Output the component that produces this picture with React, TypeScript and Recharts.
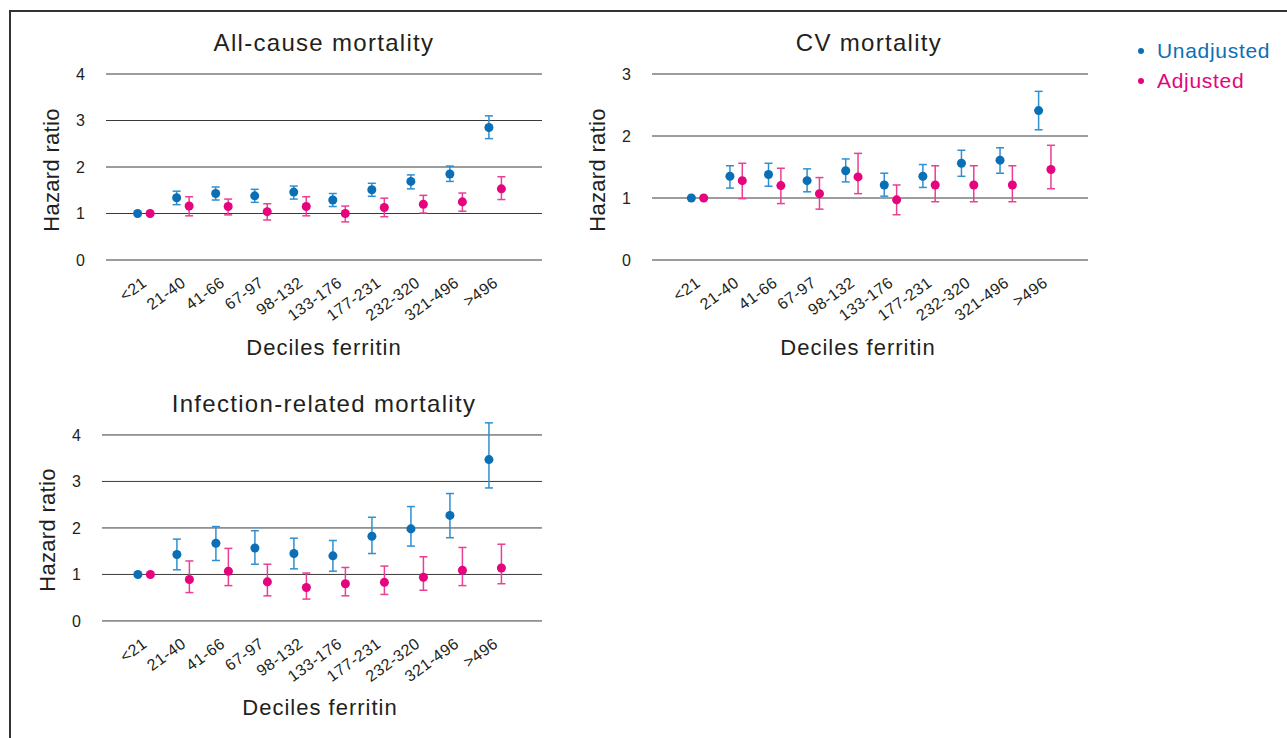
import { ScatterChart, Scatter, XAxis, YAxis, ReferenceLine, ErrorBar } from "recharts";

const FONT = '"Liberation Sans", Arial, Helvetica, sans-serif';
const INK = "#231f20";
const BLUE = "#0b6fb6";
const BLUE_BAR = "#2f8fd2";
const PINK = "#e5047e";
const PINK_BAR = "#ea3f93";

const deciles = ["<21", "21-40", "41-66", "67-97", "98-132", "133-176", "177-231", "232-320", "321-496", ">496"];
const xTicks = [1, 2, 3, 4, 5, 6, 7, 8, 9, 10];
const yTicks4 = [0, 1, 2, 3, 4];
const yTicks3 = [0, 1, 2, 3];

// All-cause mortality
const allUnadj = [1.0, 1.34, 1.43, 1.38, 1.46, 1.29, 1.51, 1.69, 1.85, 2.85];
const allUnadjLow = [null, 1.19, 1.29, 1.24, 1.31, 1.15, 1.37, 1.53, 1.69, 2.61];
const allUnadjHigh = [null, 1.48, 1.57, 1.52, 1.59, 1.43, 1.65, 1.83, 2.02, 3.1];
const allAdj = [1.0, 1.16, 1.15, 1.04, 1.15, 1.0, 1.13, 1.2, 1.25, 1.53];
const allAdjLow = [null, 0.95, 0.97, 0.86, 0.95, 0.82, 0.93, 1.01, 1.05, 1.3];
const allAdjHigh = [null, 1.36, 1.31, 1.21, 1.36, 1.16, 1.33, 1.39, 1.44, 1.79];

// CV mortality
const cvUnadj = [1.0, 1.35, 1.38, 1.28, 1.44, 1.21, 1.35, 1.56, 1.61, 2.41];
const cvUnadjLow = [null, 1.16, 1.19, 1.1, 1.26, 1.03, 1.17, 1.35, 1.4, 2.1];
const cvUnadjHigh = [null, 1.52, 1.56, 1.47, 1.63, 1.4, 1.54, 1.77, 1.81, 2.72];
const cvAdj = [1.0, 1.28, 1.2, 1.07, 1.34, 0.97, 1.21, 1.21, 1.21, 1.46];
const cvAdjLow = [null, 0.99, 0.91, 0.82, 1.07, 0.73, 0.94, 0.94, 0.94, 1.15];
const cvAdjHigh = [null, 1.56, 1.48, 1.33, 1.72, 1.21, 1.52, 1.52, 1.52, 1.85];

// Infection-related mortality
const infUnadj = [1.0, 1.43, 1.67, 1.57, 1.45, 1.4, 1.82, 1.98, 2.27, 3.47];
const infUnadjLow = [null, 1.1, 1.3, 1.22, 1.12, 1.07, 1.45, 1.61, 1.79, 2.86];
const infUnadjHigh = [null, 1.76, 2.03, 1.94, 1.78, 1.73, 2.23, 2.46, 2.74, 4.26];
const infAdj = [1.0, 0.89, 1.07, 0.84, 0.72, 0.8, 0.83, 0.94, 1.09, 1.14];
const infAdjLow = [null, 0.61, 0.76, 0.54, 0.47, 0.54, 0.57, 0.66, 0.76, 0.8];
const infAdjHigh = [null, 1.29, 1.56, 1.22, 1.03, 1.15, 1.18, 1.38, 1.58, 1.65];

interface Pt {
  x: number;
  y: number;
  err: [number, number] | null;
}

// blue dot sits left of the decile, pink dot right of it
function toPoints(values: number[], low: (number | null)[], high: (number | null)[], shift: number): Pt[] {
  return values.map((v, i) => {
    const lo = low[i];
    const hi = high[i];
    return {
      x: i + 1 + shift,
      y: v,
      err: lo == null || hi == null ? null : [v - lo, hi - v],
    };
  });
}

function DecileTick(props: any) {
  const { x, y, payload } = props;
  const ax = x + 4;
  const ay = y + 25;
  return (
    <text
      x={ax}
      y={ay}
      transform={`rotate(-36, ${ax}, ${ay})`}
      textAnchor="end"
      fill={INK}
      fontSize={16}
      fontFamily={FONT}
      letterSpacing={0.5}
    >
      {deciles[payload.value - 1]}
    </text>
  );
}

const Y_AXIS_W = 98;
const X_AXIS_H = 100;
const PAD_TOP = 14;
const PAD_RIGHT = 8;

interface PanelProps {
  left: number;
  right: number;
  gridTop: number; // page y of the top tick line
  bottom: number;
  yMax: number;
  yTicks: number[];
  xDomain: [number, number];
  unadjusted: Pt[];
  adjusted: Pt[];
}

function Panel({ left, right, gridTop, bottom, yMax, yTicks, xDomain, unadjusted, adjusted }: PanelProps) {
  const topTick = yTicks[yTicks.length - 1];
  const top = bottom - ((bottom - gridTop) * yMax) / topTick;
  const width = right - left + Y_AXIS_W + PAD_RIGHT;
  const height = bottom - top + PAD_TOP + X_AXIS_H;
  return (
    <div style={{ position: "absolute", left: left - Y_AXIS_W, top: top - PAD_TOP }}>
      <ScatterChart width={width} height={height} margin={{ top: PAD_TOP, right: PAD_RIGHT, bottom: 0, left: 0 }}>
        <XAxis
          type="number"
          dataKey="x"
          domain={xDomain}
          ticks={xTicks}
          interval={0}
          allowDataOverflow
          axisLine={false}
          tickLine={false}
          tickSize={0}
          tickMargin={0}
          height={X_AXIS_H}
          tick={<DecileTick />}
        />
        <YAxis
          type="number"
          dataKey="y"
          domain={[0, yMax]}
          ticks={yTicks}
          axisLine={false}
          tickLine={false}
          tickSize={0}
          tickMargin={21}
          width={Y_AXIS_W}
          tick={{ fill: INK, fontSize: 16, fontFamily: FONT }}
        />
        {yTicks.map((t) => (
          <ReferenceLine key={t} y={t} stroke="#3a3a3a" strokeWidth={1} />
        ))}
        <Scatter data={unadjusted} fill={BLUE} isAnimationActive={false}>
          <ErrorBar dataKey="err" direction="y" width={4} stroke={BLUE_BAR} strokeWidth={1.5} />
        </Scatter>
        <Scatter data={adjusted} fill={PINK} isAnimationActive={false}>
          <ErrorBar dataKey="err" direction="y" width={4} stroke={PINK_BAR} strokeWidth={1.5} />
        </Scatter>
      </ScatterChart>
    </div>
  );
}

const SHIFT = 0.16;

export default function App() {
  const titleStyle = { fontFamily: FONT, fontSize: 24, fill: INK, letterSpacing: 1.3 };
  const yLabelStyle = { fontFamily: FONT, fontSize: 22, fill: INK, letterSpacing: 0.3 };
  const xLabelStyle = { fontFamily: FONT, fontSize: 22, fill: INK, letterSpacing: 1.0 };
  const legendStyle = { fontFamily: FONT, fontSize: 21, letterSpacing: 0.7 };
  return (
    <div
      style={{
        position: "fixed",
        left: 0,
        top: 0,
        width: 1287,
        height: 738,
        background: "#fff",
        overflow: "hidden",
      }}
    >
      <Panel
        left={106}
        right={542}
        gridTop={74}
        bottom={260}
        yMax={4}
        yTicks={yTicks4}
        xDomain={[0.03, 11.2]}
        unadjusted={toPoints(allUnadj, allUnadjLow, allUnadjHigh, -SHIFT)}
        adjusted={toPoints(allAdj, allAdjLow, allAdjHigh, SHIFT)}
      />
      <Panel
        left={652}
        right={1088}
        gridTop={74}
        bottom={260}
        yMax={3}
        yTicks={yTicks3}
        xDomain={[-0.18, 11.12]}
        unadjusted={toPoints(cvUnadj, cvUnadjLow, cvUnadjHigh, -SHIFT)}
        adjusted={toPoints(cvAdj, cvAdjLow, cvAdjHigh, SHIFT)}
      />
      <Panel
        left={102}
        right={542}
        gridTop={435}
        bottom={621}
        yMax={4.3}
        yTicks={yTicks4}
        xDomain={[-0.08, 11.2]}
        unadjusted={toPoints(infUnadj, infUnadjLow, infUnadjHigh, -SHIFT)}
        adjusted={toPoints(infAdj, infAdjLow, infAdjHigh, SHIFT)}
      />
      <svg
        width={1287}
        height={738}
        style={{ position: "absolute", left: 0, top: 0, pointerEvents: "none" }}
      >
        <line x1={9} y1={11} x2={1287} y2={11} stroke="#333" strokeWidth={2} />
        <line x1={10} y1={10} x2={10} y2={738} stroke="#333" strokeWidth={2} />

        <text x={324} y={51} textAnchor="middle" style={titleStyle}>All-cause mortality</text>
        <text x={869} y={51} textAnchor="middle" style={titleStyle}>CV mortality</text>
        <text x={324} y={412} textAnchor="middle" style={titleStyle}>Infection-related mortality</text>

        <text x={59} y={170} textAnchor="middle" transform="rotate(-90, 59, 170)" style={yLabelStyle}>Hazard ratio</text>
        <text x={605} y={170} textAnchor="middle" transform="rotate(-90, 605, 170)" style={yLabelStyle}>Hazard ratio</text>
        <text x={55} y={530} textAnchor="middle" transform="rotate(-90, 55, 530)" style={yLabelStyle}>Hazard ratio</text>

        <text x={324} y={355} textAnchor="middle" style={xLabelStyle}>Deciles ferritin</text>
        <text x={858} y={355} textAnchor="middle" style={xLabelStyle}>Deciles ferritin</text>
        <text x={320} y={715} textAnchor="middle" style={xLabelStyle}>Deciles ferritin</text>

        <circle cx={1141} cy={51} r={3} fill={BLUE} />
        <text x={1157} y={58} style={{ ...legendStyle, fill: BLUE }}>Unadjusted</text>
        <circle cx={1141} cy={81} r={3} fill={PINK} />
        <text x={1157} y={88} style={{ ...legendStyle, fill: PINK }}>Adjusted</text>
      </svg>
    </div>
  );
}
